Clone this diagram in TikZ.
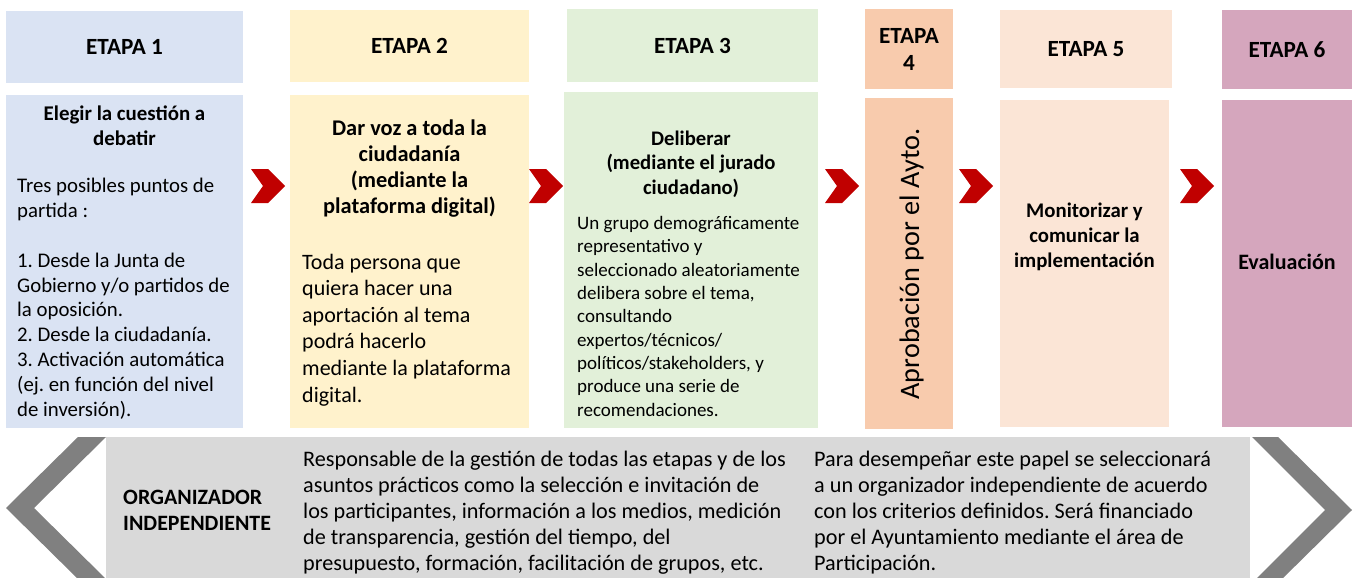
\documentclass[tikz,border=0pt]{standalone}
\usepackage{fontspec}
\setmainfont{Carlito}
\definecolor{cA}{HTML}{DAE3F3}
\definecolor{cB}{HTML}{FFF2CC}
\definecolor{cC}{HTML}{E2F0D9}
\definecolor{cD}{HTML}{F8CBAD}
\definecolor{cE}{HTML}{FBE5D6}
\definecolor{cF}{HTML}{D5A6BD}
\definecolor{bandgray}{HTML}{D9D9D9}
\definecolor{chevgray}{HTML}{808080}
\definecolor{chevred}{HTML}{C00000}
\begin{document}
\frenchspacing
\begin{tikzpicture}[x=1pt,y=-1pt,
  boxshape/.style={rectangle,inner sep=0pt,outer sep=0pt,draw=none},
  hdr/.style={boxshape,align=center,font=\bfseries\fontsize{23.2}{27}\selectfont},
  ttl/.style={inner sep=0pt,anchor=base,align=center},
  txt/.style={inner sep=0pt,anchor=base west,align=left},
  redchev/.style={fill=chevred},
  graychev/.style={fill=chevgray}]
\useasboundingbox (0,0) rectangle (1358,578);
\clip (0,0) rectangle (1358,578);
\fill[white] (0,0) rectangle (1358,578);
% headers
\node[hdr,fill=cA,minimum width=237,minimum height=72] (h1) at (124.5,47) {ETAPA 1};
\node[hdr,fill=cB,minimum width=239,minimum height=72] (h2) at (409.5,46) {ETAPA 2};
\node[hdr,fill=cC,minimum width=251,minimum height=73] (h3) at (692.5,45.5) {ETAPA 3};
\node[hdr,fill=cD,minimum width=88,minimum height=80] (h4) at (909,49) {ETAPA\\4};
\node[hdr,fill=cE,minimum width=172,minimum height=78] (h5) at (1086,49) {ETAPA 5};
\node[hdr,fill=cF,minimum width=130,minimum height=79] (h6) at (1287,49.5) {ETAPA 6};
% body boxes
\node[boxshape,fill=cA,minimum width=237,minimum height=333] (b1) at (124.5,261.5) {};
\node[boxshape,fill=cB,minimum width=239,minimum height=333] (b2) at (409.5,261.5) {};
\node[boxshape,fill=cC,minimum width=254,minimum height=336] (b3) at (691,260) {};
\node[boxshape,fill=cD,minimum width=88,minimum height=331] (b4) at (909,263.5) {};
\node[boxshape,fill=cE,minimum width=169,minimum height=327] (b5) at (1084.5,263.5) {};
\node[boxshape,fill=cF,minimum width=130,minimum height=327] (b6) at (1287,263.5) {};
% red chevrons
\foreach \cx in {251,529,825,959,1180}{
  \fill[redchev] (\cx,169) -- (\cx+17,169) -- (\cx+34,186) -- (\cx+17,203) -- (\cx,203) -- (\cx+12,186) -- cycle;
}
% box texts (anchor = baseline of the last line)
\node[ttl,font=\bfseries\fontsize{20.9}{25}\selectfont] (t1) at (124.5,145) {Elegir la cuestión a\\debatir};
\node[txt,font=\fontsize{20.8}{24.8}\selectfont] (p1) at (17,416) {Tres posibles puntos de\\partida :\\[24.8pt]1. Desde la Junta de\\Gobierno y/o partidos de\\la oposición.\\2. Desde la ciudadanía.\\3. Activación automática\\(ej. en función del nivel\\de inversión).};
\node[ttl,font=\bfseries\fontsize{22.4}{26}\selectfont] (t2) at (409.5,213) {Dar voz a toda la\\ciudadanía\\(mediante la\\plataforma digital)};
\node[txt,font=\fontsize{22}{26.6}\selectfont] (p2) at (302,402) {Toda persona que\\quiera hacer una\\aportación al tema\\podrá hacerlo\\mediante la plataforma\\digital.};
\node[ttl,font=\bfseries\fontsize{20.7}{24.5}\selectfont] (t3) at (691,194) {Deliberar\\(mediante el jurado\\ciudadano)};
\node[txt,font=\fontsize{19}{23.3}\selectfont] (p3) at (577,416) {Un grupo demográficamente\\representativo y\\seleccionado aleatoriamente\\delibera sobre el tema,\\consultando\\expertos/técnicos/\\políticos/stakeholders, y\\produce una serie de\\recomendaciones.};
\node[inner sep=0pt,anchor=base,rotate=90,font=\fontsize{28.2}{34}\selectfont] (t4) at (919,264) {Aprobación por el Ayto.};
\node[ttl,font=\bfseries\fontsize{20.8}{25}\selectfont] (t5) at (1084.5,267) {Monitorizar y\\comunicar la\\implementación};
\node[ttl,font=\bfseries\fontsize{22}{26}\selectfont] (t6) at (1287,269) {Evaluación};
% bottom band
\fill[bandgray] (106,437) rectangle (1250,578);
\fill[graychev] (78,437) -- (106,437) -- (34,508) -- (106,579) -- (78,579) -- (6,508) -- cycle;
\fill[graychev] (1252,437) -- (1278,437) -- (1352,510) -- (1278,583) -- (1252,583) -- (1325,510) -- cycle;
\node[txt,font=\bfseries\fontsize{21.9}{26}\selectfont] (org) at (123,530) {ORGANIZADOR\\INDEPENDIENTE};
\node[txt,font=\fontsize{22.2}{26}\selectfont] (q1) at (303,570) {Responsable de la gestión de todas las etapas y de los\\asuntos prácticos como la selección e invitación de\\los participantes, información a los medios, medición\\de transparencia, gestión del tiempo, del\\presupuesto, formación, facilitación de grupos, etc.};
\node[txt,font=\fontsize{22.2}{26}\selectfont] (q2) at (814,570) {Para desempeñar este papel se seleccionará\\a un organizador independiente de acuerdo\\con los criterios definidos. Será financiado\\por el Ayuntamiento mediante el área de\\Participación.};
\end{tikzpicture}
\end{document}
